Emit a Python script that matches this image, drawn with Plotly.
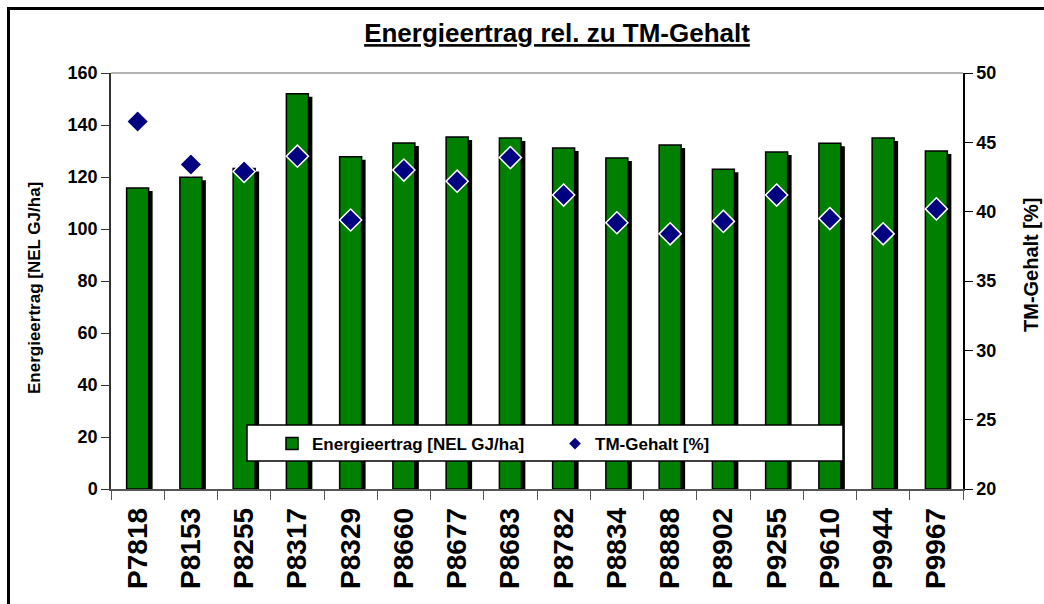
import plotly.graph_objects as go

categories = ["P7818", "P8153", "P8255", "P8317", "P8329", "P8660", "P8677", "P8683",
              "P8782", "P8834", "P8888", "P8902", "P9255", "P9610", "P9944", "P9967"]
energieertrag = [115.8, 119.9, 123.3, 152.0, 127.8, 133.1, 135.4, 135.0,
                 131.2, 127.3, 132.3, 123.0, 129.6, 133.0, 135.0, 130.0]
tm_gehalt = [46.5, 43.4, 42.9, 44.0, 39.4, 43.0, 42.2, 43.9,
             41.2, 39.2, 38.4, 39.3, 41.2, 39.5, 38.4, 40.2]

FONT = "Liberation Sans, Arial, sans-serif"
W, H = 1044, 604
L, R, T, B = 111, 963, 73, 489  # plot area in px

def px_x(p):  # px -> paper x
    return (p - L) / (R - L)

def px_y(p):  # px -> paper y
    return (B - p) / (B - T)

bar_w = 0.413
shadow_dx = 4 / ((R - L) / len(categories))
shadow_dy = 3 * 160 / (B - T)

fig = go.Figure()
# shadow
fig.add_trace(go.Bar(
    x=categories, y=[v - shadow_dy for v in energieertrag],
    width=bar_w, offset=-bar_w / 2 + shadow_dx,
    marker=dict(color="black", line=dict(width=0)),
    showlegend=False, hoverinfo="skip", yaxis="y"))
fig.add_trace(go.Bar(
    x=categories, y=energieertrag, name="Energieertrag [NEL GJ/ha]",
    width=bar_w, offset=-bar_w / 2,
    marker=dict(color="#008000", line=dict(color="black", width=1.5)),
    yaxis="y"))
fig.add_trace(go.Scatter(
    x=categories, y=tm_gehalt, name="TM-Gehalt [%]", mode="markers",
    marker=dict(symbol="diamond", size=17, color="#000080",
                line=dict(color="white", width=1.5)),
    showlegend=False, yaxis="y2"))
# legend entry with small diamond (like the reference legend)
fig.add_trace(go.Scatter(
    x=[None], y=[None], name="TM-Gehalt [%]", mode="markers",
    marker=dict(symbol="diamond", size=9, color="#000080", line=dict(width=0)),
    yaxis="y2"))

bold = dict(family=FONT, color="black", weight="bold")

fig.update_layout(
    width=W, height=H,
    margin=dict(l=L, r=W - R, t=T, b=H - B, pad=0, autoexpand=False),
    paper_bgcolor="white", plot_bgcolor="white",
    barmode="overlay",
    font=dict(family=FONT, color="black"),
    title=dict(text="<u>Energieertrag rel. zu TM-Gehalt</u>",
               x=px_x(557), xref="paper", xanchor="center",
               y=1 - 33 / H, yanchor="middle",
               font=dict(size=26, **bold)),
    xaxis=dict(
        range=[-0.5, len(categories) - 0.5], automargin=False,
        tickangle=-90, tickfont=dict(size=28, **bold), ticklabelstandoff=6,
        ticks="outside", ticklen=9, tickcolor="#555", tickson="boundaries",
        showline=True, linecolor="#555", linewidth=1.5,
        showgrid=False, zeroline=False),
    yaxis=dict(
        range=[0, 160], dtick=20, tickformat="d", automargin=False,
        tickfont=dict(size=18, **bold),
        ticks="outside", ticklen=8, tickcolor="#333",
        showline=True, linecolor="#333", linewidth=1.5,
        showgrid=False, zeroline=False),
    yaxis2=dict(
        range=[20, 50], dtick=5, overlaying="y", side="right", automargin=False,
        tickfont=dict(size=18, **bold),
        ticks="outside", ticklen=8, tickcolor="black",
        showline=True, linecolor="black", linewidth=1.5,
        showgrid=False, zeroline=False),
    annotations=[
        dict(text="Energieertrag [NEL GJ/ha]", textangle=-90, showarrow=False,
             xref="paper", yref="paper", x=px_x(34), y=px_y(288),
             xanchor="center", yanchor="middle", font=dict(size=17, **bold)),
        dict(text="TM-Gehalt [%]", textangle=-90, showarrow=False,
             xref="paper", yref="paper", x=px_x(1031), y=px_y(265),
             xanchor="center", yanchor="middle", font=dict(size=20, **bold)),
    ],
    legend=dict(
        orientation="h", x=px_x(272), y=px_y(426), xanchor="left", yanchor="top",
        bgcolor="rgba(0,0,0,0)", borderwidth=0,
        font=dict(size=17, **bold),
        entrywidth=238, itemsizing="trace"),
    shapes=[
        dict(type="rect", xref="paper", yref="paper",
             x0=px_x(247), x1=px_x(843), y0=px_y(461), y1=px_y(425),
             fillcolor="white", line=dict(color="black", width=1.5), layer="above"),
        dict(type="line", xref="paper", yref="paper",
             x0=0, x1=1, y0=1, y1=1, line=dict(color="#999", width=1.5), layer="below"),
        dict(type="rect", xref="paper", yref="paper",
             x0=px_x(8.5), x1=px_x(1080), y0=px_y(650), y1=px_y(8.5),
             line=dict(color="black", width=3), fillcolor="rgba(0,0,0,0)"),
    ],
)

fig.write_html(
    "out.html",
    config={"displayModeBar": False},
    post_script="document.body.style.margin='0px';document.body.style.overflow='hidden';",
)
